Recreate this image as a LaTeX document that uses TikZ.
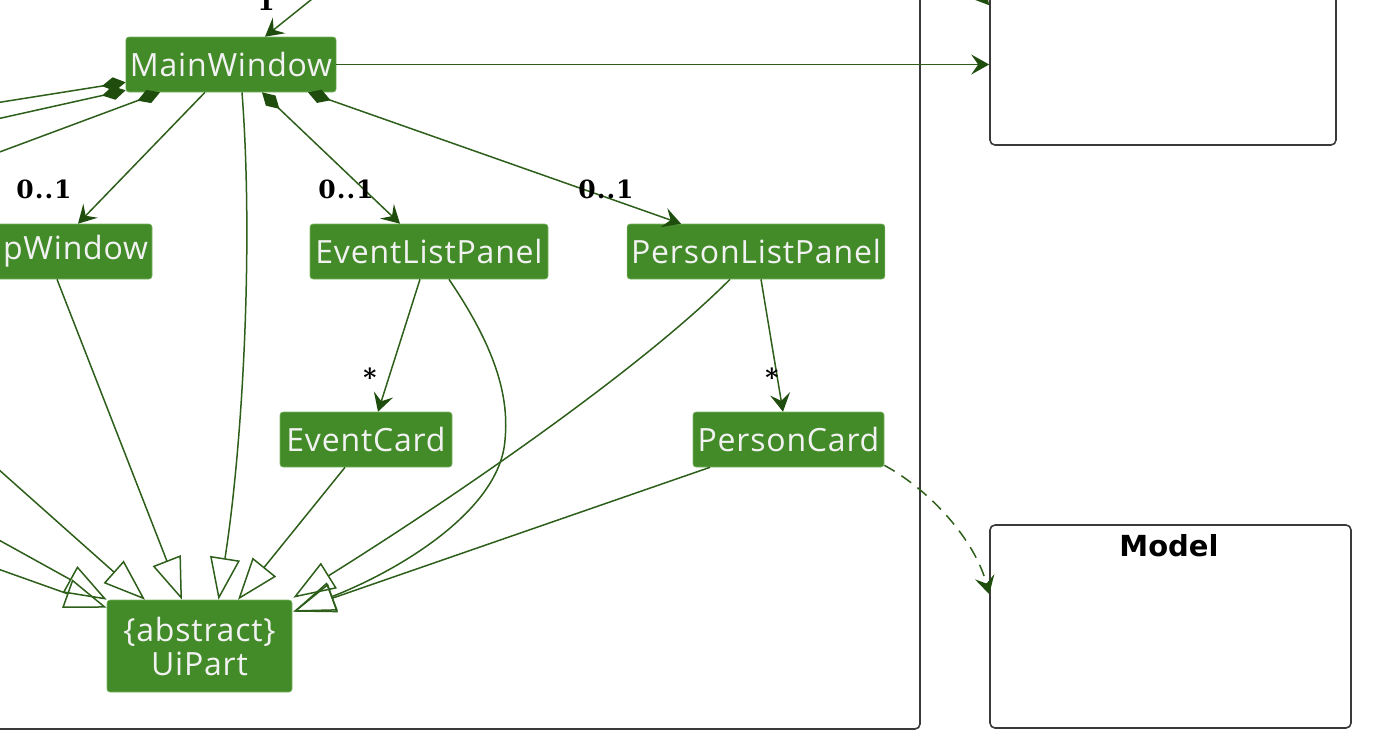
\documentclass[tikz,border=0pt]{standalone}
\usepackage{fontspec}
\setmainfont{Open Sans}[LetterSpace=2.5]
\newfontfamily\multfont{DejaVu Serif}[LetterSpace=4]
\newfontfamily\titlefont{DejaVu Sans}
\usepackage{tikz}
\usetikzlibrary{arrows.meta,calc}
\definecolor{clsGreen}{HTML}{428B28}
\definecolor{clsEdge}{HTML}{7DB463}
\definecolor{lineGreen}{HTML}{2D5F1A}
\definecolor{headGreen}{HTML}{1F4D0E}
\definecolor{clsText}{HTML}{F2F2F2}
\definecolor{pkgGrey}{HTML}{3A3A3A}

\begin{document}
\begin{tikzpicture}[
    x=0.5pt,y=-0.5pt,
    cls/.style={draw=clsEdge,line width=0.3pt,fill=clsGreen,text=clsText,rounded corners=1.5pt,
      minimum height=27.5pt,inner xsep=2pt,font=\fontsize{16}{17}\selectfont},
    pkg/.style={draw=pkgGrey,line width=0.8pt,rounded corners=2.5pt,inner sep=0pt},
    mult/.style={anchor=base,inner sep=0pt,font=\multfont\bfseries\fontsize{12.5}{14}\selectfont},
    line/.style={draw=lineGreen,line width=0.75pt},
    assoc/.style={line,-{Stealth[length=9pt,width=10pt,inset=3.5pt,color=headGreen]}},
    comp/.style={line,{Diamond[length=12pt,width=7pt,color=headGreen]}-},
    comparrow/.style={line,{Diamond[length=12pt,width=7pt,color=headGreen]}-{Stealth[length=9pt,width=10pt,inset=3.5pt,color=headGreen]}},
    inherit/.style={line,-{Triangle[open,length=21pt,width=15pt]}},
    dep/.style={line,dash pattern=on 6pt off 4pt,-{Stealth[length=9pt,width=10pt,inset=3.5pt,color=headGreen]}}
  ]
    \useasboundingbox (0,0) rectangle (1382,752);
    \clip (0,0) rectangle (1382,752);
    % package frames
    \draw[pkg] (-60,-60) rectangle (920,729);
    \node[pkg,minimum width=173pt,minimum height=100pt] (logic) at (1163,45) {};
    \node[pkg,minimum width=180.5pt,minimum height=101.5pt] (model) at (1170.5,626.5) {};
    \node[anchor=base,font=\titlefont\bfseries\fontsize{14.5}{16}\selectfont] (modelTitle) at (1169,556) {Model};
    % classes
    \node[cls,minimum width=104pt] (main) at (231,64.5) {MainWindow};
    \node[cls,minimum width=101.5pt] (help) at (49.5,251.5) {HelpWindow};
    \node[cls,minimum width=119pt] (evl) at (429,251.5) {EventListPanel};
    \node[cls,minimum width=128pt] (pl) at (756,251.5) {PersonListPanel};
    \node[cls,minimum width=86pt] (evc) at (366,439.5) {EventCard};
    \node[cls,minimum width=95.5pt] (pc) at (788.5,439.5) {PersonCard};
    \node[cls,minimum width=92.5pt,minimum height=46pt,align=center] (ui) at (199.5,646) {\{abstract\}\\UiPart};
    % free ends outside the view
    \coordinate (top1) at (332,-17);
    \coordinate (top2) at (955,-35);
    \coordinate (left1) at (-30,107);
    \coordinate (left2) at (-30,125);
    \coordinate (left3) at (-30,163);
    \coordinate (left4) at (-30,444);
    \coordinate (left5) at (-30,524);
    \coordinate (left6) at (-30,559);
    % associations
    \draw[assoc] (top1) -- ($(main.north)+(34,0)$);
    \draw[assoc] (main.east) -- (main.east -| logic.west);
    \draw[assoc] (top2) -- ($(logic.north west)+(0,61)$);
    \draw[comp] ($(main.south west)+(0,-10)$) -- (left1);
    \draw[comp] ($(main.south west)+(0,-2)$) -- (left2);
    \draw[comp] ($(main.south)+(-71,0)$) -- (left3);
    \draw[assoc] ($(main.south)+(-26,0)$) -- ($(help.north)+(28.5,0)$);
    \draw[comparrow] ($(main.south)+(31,0)$) -- ($(evl.north)+(-29,0)$);
    \draw[comparrow] ($(main.south)+(77,0)$) -- ($(pl.north)+(-75,0)$);
    \draw[assoc] ($(evl.south)+(-9,0)$) -- ($(evc.north)+(12,0)$);
    \draw[assoc] ($(pl.south)+(5,0)$) -- ($(pc.north)+(-5.5,0)$);
    \draw[dep] ($(pc.south east)+(0,-2)$) .. controls (930,490) and (975,540) .. ($(model.north west)+(0,70)$);
    % multiplicities
    \node[mult] (m1) at (266,10) {1};
    \node[mult] (m2) at (44,198) {0..1};
    \node[mult] (m3) at (346,198) {0..1};
    \node[mult] (m4) at (606,198) {0..1};
    \node[mult] (m5) at (370,386) {*};
    \node[mult] (m6) at (772,386) {*};
    % generalizations
    \draw[inherit] (left4) -- ($(ui.north)+(-54.5,0)$);
    \draw[inherit] (left5) -- (ui.north west);
    \draw[inherit] (left6) -- ($(ui.north west)+(0,8)$);
    \draw[inherit] ($(help.south)+(7.5,0)$) -- ($(ui.north)+(-17.5,0)$);
    \draw[inherit] ($(main.south)+(11,0)$) .. controls (254,250) and (242,450) .. ($(ui.north)+(19,0)$);
    \draw[inherit] ($(evc.south)+(-21,0)$) -- ($(ui.north)+(38.5,0)$);
    \draw[inherit] ($(evl.south)+(20,0)$) .. controls (490,340) and (510,390) .. (505,440)
      .. controls (500,510) and (400,570) .. ($(ui.north east)+(1,12)$);
    \draw[inherit] ($(pl.south)+(-26,0)$) .. controls (640,370) and (450,500) .. ($(ui.north east)+(1,-2)$);
    \draw[inherit] ($(pc.south)+(-78.5,0)$) -- ($(ui.north east)+(1,12)$);
  \end{tikzpicture}
\end{document}
